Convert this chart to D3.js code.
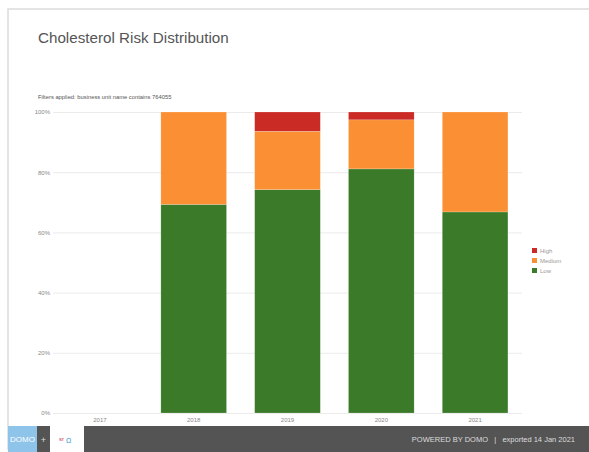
<!DOCTYPE html>
<html><head><meta charset="utf-8">
<script src="https://cdn.jsdelivr.net/npm/d3@7/dist/d3.min.js"></script>
<style>body{margin:0;background:#fff;}svg{display:block;font-family:"Liberation Sans",Arial,sans-serif;}</style>
</head><body><svg id="c" width="589" height="452"></svg>
<script>
const years = ["2017","2018","2019","2020","2021"];
const low = [0, 69.3, 74.2, 81.1, 66.8];
const medium = [0, 30.7, 19.4, 16.3, 33.2];
const high = [0, 0, 6.4, 2.6, 0];
const yTicks = [0, 20, 40, 60, 80, 100];
const seriesNames = ["Low","Medium","High"];
const legendNames = ["High","Medium","Low"];
const colors = {Low:"#3a7a28", Medium:"#fb8f33", High:"#cb2b25"};

const svg = d3.select("#c");
// card
svg.append("rect").attr("x",8).attr("y",9).attr("width",600).attr("height",440)
  .attr("fill","#fff").attr("stroke","#dcdcdc").attr("stroke-width",1.5);
svg.append("text").attr("x",38).attr("y",43).attr("font-size",15.2).attr("fill","#555")
  .text("Cholesterol Risk Distribution");
svg.append("text").attr("x",38).attr("y",99).attr("font-size",5.8).attr("fill","#555")
  .text("Filters applied: business unit name contains 764055");

const x = d3.scaleBand().domain(years).range([53,522]).paddingInner(0.3).paddingOuter(0.15);
const y = d3.scaleLinear().domain([0,100]).range([413,112]);

const g = svg.append("g");
const yAxis = g.append("g").attr("transform","translate(53,0)")
  .call(d3.axisLeft(y).tickValues(yTicks).tickFormat(d=>d+"%").tickSize(-469).tickPadding(3));
yAxis.select(".domain").remove();
yAxis.selectAll("line").attr("stroke","#ebebeb");
yAxis.selectAll("text").attr("font-size",6).attr("fill","#888");

const table = years.map((yr,i)=>({year:yr, Low:low[i], Medium:medium[i], High:high[i]}));
const stack = d3.stack().keys(seriesNames)(table);
g.selectAll(".s").data(stack).join("g").attr("fill",d=>colors[d.key])
  .selectAll("rect").data(d=>d).join("rect")
  .attr("x",d=>x(d.data.year)).attr("width",x.bandwidth())
  .attr("y",d=>y(d[1])).attr("height",d=>y(d[0])-y(d[1]))
  .attr("stroke","rgba(255,255,255,0.4)").attr("stroke-width",0.5);

const xAxis = g.append("g").attr("transform","translate(0,413)")
  .call(d3.axisBottom(x).tickSize(0).tickPadding(5));
xAxis.select(".domain").remove();
xAxis.selectAll("text").attr("font-size",6).attr("fill","#888");

const lg = svg.append("g").attr("transform","translate(532,248)");
legendNames.forEach((n,i)=>{
  lg.append("rect").attr("x",0).attr("y",i*10).attr("width",5).attr("height",5).attr("fill",colors[n]);
  lg.append("text").attr("x",8).attr("y",i*10+4.8).attr("font-size",6).attr("fill","#999").text(n);
});

// footer
svg.append("rect").attr("x",8).attr("y",426).attr("width",581).attr("height",26).attr("fill","#545454");
svg.append("rect").attr("x",8).attr("y",426).attr("width",29).attr("height",26).attr("fill","#8fc4ea");
svg.append("text").attr("x",22.5).attr("y",442).attr("text-anchor","middle").attr("font-size",8).attr("fill","#fff").text("DOMO");
svg.append("text").attr("x",43.5).attr("y",443).attr("text-anchor","middle").attr("font-size",9).attr("fill","#ddd").text("+");
svg.append("rect").attr("x",50).attr("y",426).attr("width",34).attr("height",26).attr("fill","#fff");
svg.append("text").attr("x",59).attr("y",441).attr("font-size",6).attr("fill","#d04050").text("sr");
svg.append("text").attr("x",66).attr("y",443).attr("font-size",7).attr("fill","#3a9ad0").text("Ω");
svg.append("text").attr("x",575).attr("y",442).attr("text-anchor","end").attr("font-size",7.5).attr("fill","#ddd")
  .style("white-space","pre")
  .text("POWERED BY DOMO   |   exported 14 Jan 2021");
</script></body></html>
